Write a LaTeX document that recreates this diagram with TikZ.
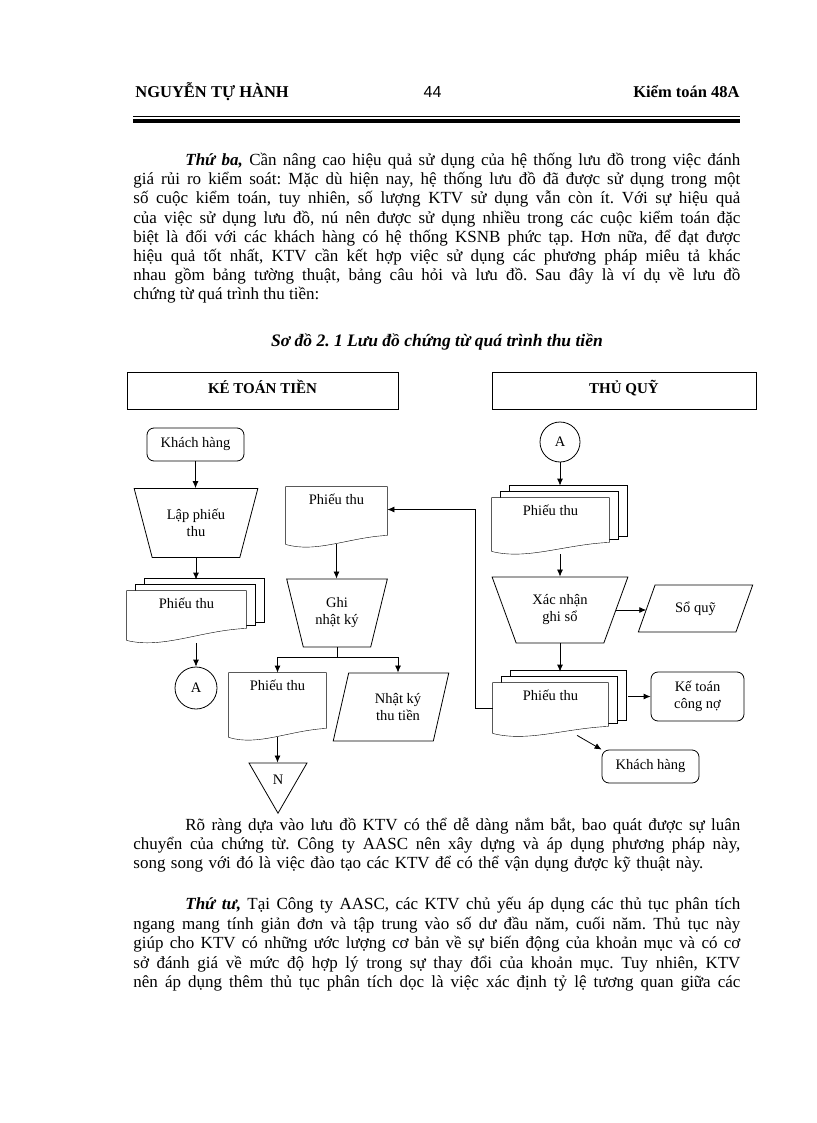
\documentclass[tikz,border=0pt]{standalone}
\usepackage{fontspec}
\setmainfont{Liberation Serif}
\newfontfamily\pagenumfont{Liberation Sans}
\usetikzlibrary{shapes.geometric, arrows.meta, backgrounds, calc}
\frenchspacing

% outline of a document sheet around a node: flat top, wavy bottom
\newcommand{\docpath}[2]{(#1.north west) -- (#1.north east) -- ($(#1.south east)+(0,-#2)$) .. controls ($(#1.south west)!0.62!(#1.south east)+(0,-#2+2)$) and ($(#1.south west)!0.3!(#1.south east)+(0,9)$) .. (#1.south west) -- cycle}
% the two sheets lying behind a multi-document
\newcommand{\backsheets}[2]{%
	\draw[fill=white] ($(#1.north west)+(18,-12)$) rectangle ($(#1.south east)+(18,-#2-6)$);
	\draw[fill=white] ($(#1.north west)+(9,-6)$) rectangle ($(#1.south east)+(9,-#2-3)$);}

\begin{document}
\begin{tikzpicture}[x=1pt, y=-1pt, line width=0.8pt,
	flow/.style={-{Latex[length=7pt, width=6pt]}},
	txt/.style={anchor=base west, inner sep=0pt, font=\fontsize{17}{19}\selectfont},
	lane/.style={draw, minimum height=37pt, text depth=8pt, font=\fontsize{15}{17}\selectfont\bfseries},
	label/.style={font=\fontsize{14.5}{17}\selectfont, align=center},
	term/.style={label, draw, rounded corners=7pt, minimum height=33pt, inner sep=0pt},
	manop/.style={label, draw, trapezium, shape border rotate=180, trapezium stretches=true, inner sep=0pt},
	store/.style={label, draw, trapezium, trapezium stretches=true, inner sep=0pt},
	doc/.style={label, inner xsep=0pt, inner ysep=0pt, text height=17.5pt},
	conn/.style={label, draw, circle, minimum size=42pt, inner sep=0pt},
	offpage/.style={label, draw, regular polygon, regular polygon sides=3, shape border rotate=180, minimum size=67pt, inner sep=0pt}]
	\useasboundingbox (0,0) rectangle (816,1123);

	% Page head
	\node[anchor=base west, inner sep=0pt, font=\fontsize{16.5}{19}\selectfont\bfseries] (author) at (135,97.5) {NGUYỄN TỰ HÀNH};
	\node[anchor=base, inner sep=0pt, font=\fontsize{16}{19}\pagenumfont] (pagenum) at (432.5,97.5) {44};
	\node[anchor=base east, inner sep=0pt, font=\fontsize{16.5}{19}\selectfont\bfseries] (course) at (740,97.5) {Kiểm toán 48A};
	\draw[line width=1pt] (133,116.5) -- (740,116.5);
	\draw[line width=4pt] (133,121.5) -- (740,121.5);

	% Text before the chart
	\node[txt] (p1a) at (185,166) {\makebox[555pt][s]{\textbf{\textit{Thứ ba,}} Cần nâng cao hiệu quả sử dụng của hệ thống lưu đồ trong việc đánh}};
	\node[txt] (p1b) at (133,185) {\makebox[607pt][s]{giá rủi ro kiểm soát: Mặc dù hiện nay, hệ thống lưu đồ đã được sử dụng trong một}};
	\node[txt] (p1c) at (133,204) {\makebox[607pt][s]{số cuộc kiểm toán, tuy nhiên, số lượng KTV  sử dụng vẫn còn ít. Với sự hiệu quả}};
	\node[txt] (p1d) at (133,223) {\makebox[607pt][s]{của việc sử dụng lưu đồ, nú nên được sử dụng nhiều trong các cuộc kiểm toán đặc}};
	\node[txt] (p1e) at (133,242) {\makebox[607pt][s]{biệt là đối với các khách hàng có hệ thống KSNB phức tạp. Hơn nữa, để đạt được}};
	\node[txt] (p1f) at (133,261) {\makebox[607pt][s]{hiệu quả tốt nhất, KTV cần kết hợp việc sử dụng các phương pháp miêu tả khác}};
	\node[txt] (p1g) at (133,280) {\makebox[607pt][s]{nhau gồm bảng tường thuật, bảng câu hỏi và lưu đồ. Sau đây là ví dụ về lưu đồ}};
	\node[txt] (p1h) at (133,299) {chứng từ quá trình thu tiền:};

	\node[anchor=base, inner sep=0pt, font=\fontsize{17.5}{19}\selectfont\bfseries\itshape] (caption) at (437,346) {Sơ đồ 2. 1 Lưu đồ chứng từ quá trình thu tiền};

	% Paths, nodes and wires:
	\node[lane, minimum width=271pt] (kt) at (262.5,390.5) {KÉ TOÁN TIỀN};
	\node[lane, minimum width=264pt] (tq) at (624,390.5) {THỦ QUỸ};

	\node[term, minimum width=97pt] (kh1) at (195.5,444.5) {Khách hàng};
	\node[manop, minimum width=124pt, minimum height=69pt, trapezium angle=66.5] (lap) at (196,523) {Lập phiếu\\thu};
	\node[doc, minimum width=119pt, text depth=31.5pt] (ptl) at (186.5,615.5) {Phiếu thu};
	\node[conn] (a1) at (196,688) {A};

	\node[doc, minimum width=101pt, text depth=39.5pt] (pt2) at (336.5,515.5) {Phiếu thu};
	\node[manop, minimum width=101pt, minimum height=68pt, trapezium angle=70.6] (ghi) at (337,613) {Ghi\\nhật ký};
	\node[doc, minimum width=97pt, text depth=46.5pt] (pt3) at (277.5,705) {Phiếu thu};
	\node[store, minimum width=116pt, minimum height=68pt, trapezium left angle=68, trapezium right angle=112] (nk) at (391,707) {\hspace*{14pt}Nhật ký\\\hspace*{14pt}thu tiền};
	\node[offpage] (n) at (278,779.7) {N};

	\node[conn, minimum size=40pt] (a2) at (560,442) {A};
	\node[doc, minimum width=117pt, text depth=35.5pt] (rd1) at (550.5,524.5) {Phiếu thu};
	\node[manop, minimum width=136pt, minimum height=66pt, trapezium angle=63.4] (xn) at (560,610) {Xác nhận\\ghi sổ};
	\node[store, minimum width=115pt, minimum height=47pt, trapezium left angle=58.3, trapezium right angle=121.7] (sq) at (695.5,608.5) {Sổ quỹ};
	\node[doc, minimum width=115pt, text depth=32.5pt] (rd2) at (550.5,708) {Phiếu thu};
	\node[term, minimum width=93pt, minimum height=49pt] (ktcn) at (697.5,696.5) {Kế toán\\công nợ};
	\node[term, minimum width=97pt] (kh2) at (650.5,766.5) {Khách hàng};

	\begin{scope}[on background layer]
		\backsheets{ptl}{12}
		\draw[fill=white] \docpath{ptl}{12};
		\draw[fill=white] \docpath{pt2}{9};
		\draw[fill=white] \docpath{pt3}{9};
		\backsheets{rd1}{9}
		\draw[fill=white] \docpath{rd1}{9};
		\backsheets{rd2}{7}
		\draw[fill=white] \docpath{rd2}{7};
	\end{scope}

	\draw[flow] (kh1.south) -- (kh1.south |- lap.north);
	\draw[flow, shorten >=11pt] (lap.south) -- (lap.south |- ptl.north);
	\draw[flow, shorten <=3pt] (a1.north |- ptl.south) -- (a1.north);

	\draw[flow] (pt2.south) -- (pt2.south |- ghi.north);
	\coordinate (split) at ($(ghi.south)+(0,10)$);
	\draw (ghi.south) -- (split);
	\draw[flow] (split) -| (pt3.north);
	\draw[flow] (split) -| ([xshift=7pt]nk.north);
	\draw[flow] (pt3.south) -- (pt3.south |- n.north);

	\draw[flow, shorten >=12pt] (a2.south) -- (a2.south |- rd1.north);
	\draw[flow, shorten <=3pt] (xn.north |- rd1.south) -- (xn.north);
	\draw[flow] (xn.east) -- (xn.east -| sq.west);
	\draw[flow, shorten >=11pt] (xn.south) -- (xn.south |- rd2.north);
	\draw[flow, shorten <=20pt] (ktcn.west -| rd2.east) -- (ktcn.west);
	\draw[flow, shorten <=4pt] ($(rd2.south west)!0.7!(rd2.south east)$) -- (kh2.north west);
	\draw[flow] (rd2.west) -- ++(-17,0) |- ([yshift=6pt]pt2.east);

	% Text after the chart
	\node[txt] (p2a) at (185,830) {\makebox[555pt][s]{Rõ ràng dựa vào lưu đồ KTV có thể dễ dàng nắm bắt, bao quát được sự luân}};
	\node[txt] (p2b) at (133,849) {\makebox[607pt][s]{chuyển của chứng từ. Công ty AASC nên xây dựng và áp dụng phương pháp này,}};
	\node[txt] (p2c) at (133,868) {\makebox[570pt][s]{song song với đó là việc đào tạo các KTV để có thể vận dụng được kỹ thuật này.}};

	\node[txt] (p3a) at (185,909.5) {\makebox[555pt][s]{\textbf{\textit{Thứ tư,}} Tại Công ty AASC, các KTV chủ yếu áp dụng các thủ tục phân tích}};
	\node[txt] (p3b) at (133,929) {\makebox[607pt][s]{ngang mang tính giản đơn và tập trung vào số dư đầu năm, cuối năm. Thủ tục này}};
	\node[txt] (p3c) at (133,948.5) {\makebox[607pt][s]{giúp cho KTV có những ước lượng cơ bản về sự biến động của khoản mục và có cơ}};
	\node[txt] (p3d) at (133,968) {\makebox[607pt][s]{sở đánh giá về mức độ hợp lý trong sự thay đổi của khoản mục. Tuy nhiên, KTV}};
	\node[txt] (p3e) at (133,987.5) {\makebox[607pt][s]{nên áp dụng thêm thủ tục phân tích dọc là việc xác định tỷ lệ tương quan giữa các}};
\end{tikzpicture}
\end{document}
